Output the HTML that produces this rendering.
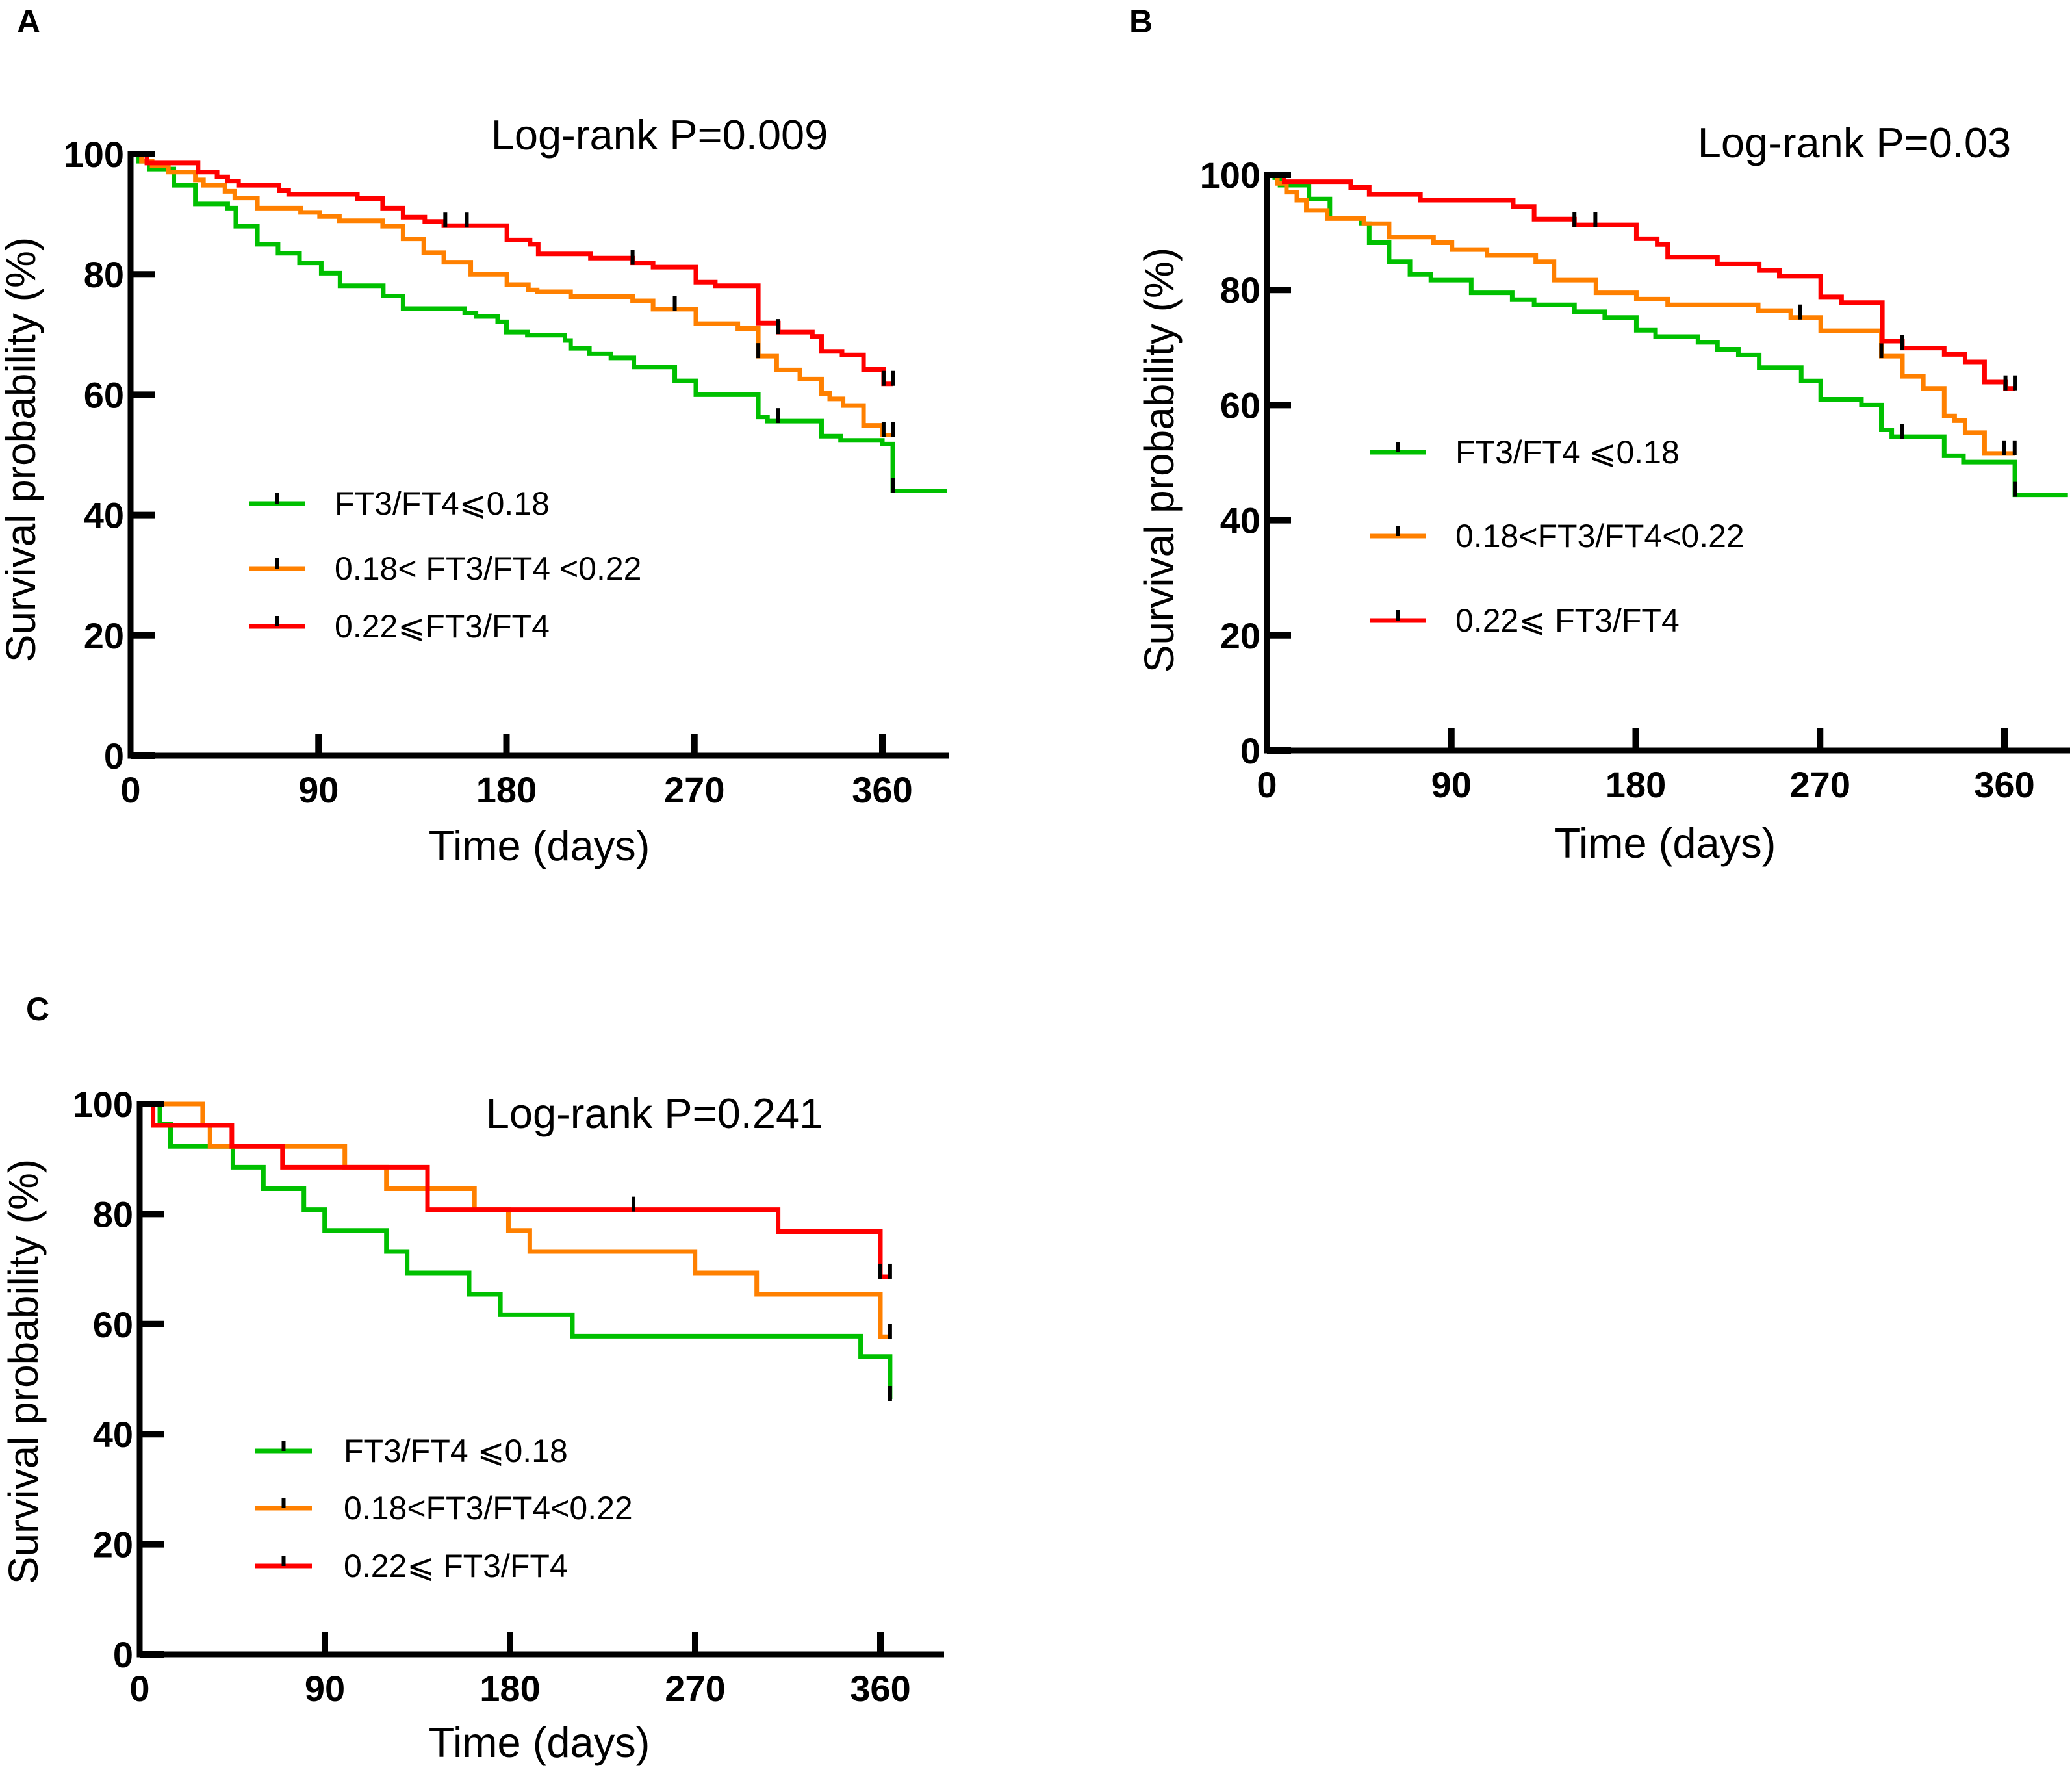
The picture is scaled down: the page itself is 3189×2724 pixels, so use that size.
<!DOCTYPE html>
<html><head><meta charset="utf-8"><style>
html,body{margin:0;padding:0;background:#fff}
svg{display:block}
text{font-family:"Liberation Sans","Noto Sans CJK SC",sans-serif}
</style></head><body>
<svg id="fig" width="3189" height="2724" viewBox="0 0 3189 2724" xmlns="http://www.w3.org/2000/svg"></svg>
<script>
// ---- Panel A data ----
const A_green_t=[0,3.9,9,20.7,31,46.5,50.4,60.7,70.6,80.9,91.3,100.3,121,130.5,160,165.4,175.8,180,190,208,210.7,219.7,230,241,260.6,270.7,300.6,305,330.9,340,360,365];
const A_green_s=[100,98.8,97.5,94.8,91.7,91,88,85,83.5,81.9,80.2,78.1,76.4,74.3,73.6,73,72.1,70.4,69.9,69,67.7,66.8,66.1,64.6,62.3,60,56.3,55.6,53.1,52.4,51.8,44];
const A_green_end=391;
const A_green_c=[310.2,365];
const A_orange_t=[0,5.2,10.3,18.1,31,34.9,45.2,49.9,60.7,81.4,90.5,100,120.7,130.5,140.4,150,162.9,180.2,190.5,194.7,210.7,240.4,250.2,270.7,290.8,300.6,309.4,320.5,330.9,334.8,341.2,351,360.1];
const A_orange_s=[100,98.8,98,97,95.7,94.8,93.8,92.7,91,90.3,89.6,88.9,88,85.9,83.6,82,80,78.3,77.4,77.1,76.3,75.6,74.2,71.8,71,66.4,64.1,62.6,60.2,59.3,58.2,54.9,53.3];
const A_orange_end=365;
const A_orange_c=[260.6,300.6,360.6,365];
const A_red_t=[0,7.8,32.3,41.4,46.5,51.7,71.1,75.7,108.6,120.7,130.5,140.9,150,180.2,191.3,195.2,220.2,240.4,250.2,270.7,280,300.6,310.2,326.5,330.9,340.7,351,360.6];
const A_red_s=[100,98.5,97,96.2,95.5,94.8,93.9,93.3,92.6,91,89.5,88.8,88.1,85.7,85,83.4,82.7,81.9,81.2,78.7,78.1,71.9,70.4,69.7,67.2,66.6,64.2,61.8];
const A_red_end=365;
const A_red_c=[150.7,161,240.4,310.2,360.6,365];
// ---- Panel B data ----
const B_green_t=[0,3.8,6.4,20.5,30.7,46,49.9,59.6,69.8,80,99.7,119.7,130.4,150.1,164.9,180.3,189.7,210.4,219.9,230.1,240.3,260.8,270.3,290.2,299.9,305,330.6,340,365.1];
const B_green_s=[100,99.5,98.2,95.8,92.5,91.5,88.2,84.9,82.7,81.7,79.5,78.3,77.4,76.2,75.2,73,71.9,70.9,69.7,68.7,66.5,64.2,61,60,55.7,54.5,51.2,50.1,44.4];
const B_green_end=391;
const B_green_c=[310.2,365.1];
const B_orange_t=[0,5.1,9.5,14.6,19.2,29.4,47.3,59.6,81.3,90.3,107.4,131.2,140.1,160.6,180.3,195.6,239.8,255.7,270.3,299.9,310.2,320.4,330.6,335.7,340.8,350.3];
const B_orange_s=[100,98.5,97,95.6,93.8,92.4,91.5,89.2,88.2,87,86,84.9,81.7,79.5,78.4,77.4,76.4,75.2,72.9,68.5,65,62.9,58.1,57.3,55.2,51.6];
const B_orange_end=365.1;
const B_orange_c=[260.3,299.9,360,365];
const B_red_t=[0,8.4,40.9,49.9,74.9,120.2,130.4,150.1,180.3,190.5,195.6,219.9,240.3,250.1,270.3,280.5,300.4,310.2,330.6,340.8,350.3,360.5];
const B_red_s=[100,98.8,97.8,96.6,95.6,94.5,92.3,91.3,88.9,87.9,85.7,84.5,83.4,82.4,78.8,77.8,71.1,69.9,68.8,67.5,64,62.9];
const B_red_end=365.1;
const B_red_c=[150.1,160.3,310.2,360.5,365.1];
// ---- Panel C data ----
const C_green_t=[0,9.8,15,45.3,60.1,79.8,89.9,119.9,130,160.1,175.3,210.3,350.4,364.7];
const C_green_s=[100,96.3,92.3,88.5,84.6,80.8,77,73.2,69.3,65.4,61.7,57.8,54.1,46.4];
const C_green_end=364.7;
const C_green_c=[364.7];
const C_orange_t=[0,30.6,34.2,99.7,119.9,162.7,179.2,189.6,269.9,299.9,360];
const C_orange_s=[100,96.1,92.3,88.5,84.6,80.8,77,73.2,69.3,65.4,57.7];
const C_orange_end=364.7;
const C_orange_c=[364.7];
const C_red_t=[0,6.5,44.8,69.4,139.9,310.3,360];
const C_red_s=[100,96.1,92.3,88.5,80.8,76.8,68.6];
const C_red_end=364.7;
const C_red_c=[240,360,364.7];
const yTicks=[0,20,40,60,80,100];
const xTicks=[0,90,180,270,360];

const NS='http://www.w3.org/2000/svg';
const svg=document.getElementById('fig');
function mk(tag,attrs,parent){const e=document.createElementNS(NS,tag);for(const k in attrs)e.setAttribute(k,attrs[k]);(parent||svg).appendChild(e);return e;}
function txt(s,attrs,parent){const e=mk('text',attrs,parent);e.textContent=s;return e;}
const GREEN='#00c000',ORANGE='#ff8000',RED='#ff0000';

function panel(p){
  const g=mk('g',{});
  
  
  const X=t=>p.x0+(t/360)*(p.x360-p.x0);
  const Y=v=>p.y0-(v/100)*(p.y0-p.y100);
  function sv(t,s,tt){let v=s[0];for(let i=0;i<t.length;i++){if(t[i]<=tt+0.01)v=s[i];}return v;}
  const series=[[p.g_t,p.g_s,p.g_end,p.g_c,GREEN,'green'],[p.o_t,p.o_s,p.o_end,p.o_c,ORANGE,'orange'],[p.r_t,p.r_s,p.r_end,p.r_c,RED,'red']];
  series.forEach(([t,s,end,c,col,nm])=>{
    let d='M'+X(t[0])+' '+Y(s[0]);
    for(let i=1;i<t.length;i++){d+=' H'+X(t[i])+' V'+Y(s[i]);}
    d+=' H'+X(end);
    const path=mk('path',{d:d,fill:'none',stroke:col,'stroke-width':7,'stroke-linejoin':'miter'},g);
    
    
    c.forEach(ct=>{
      const yy=Y(sv(t,s,ct));
      const m=mk('line',{x1:X(ct),x2:X(ct),y1:yy-20,y2:yy+3,stroke:'#000','stroke-width':6},g);
      
      
    });
  });
  const ax=mk('path',{d:`M${p.x0} ${p.y100-4} V${p.y0} H${p.axEnd}`,fill:'none',stroke:'#000','stroke-width':9},g);
  
  
  yTicks.forEach(v=>{
    const l=mk('line',{x1:p.x0,x2:p.x0+37,y1:Y(v),y2:Y(v),stroke:'#000','stroke-width':10},g);
    
    
    const tl=txt(String(v),{x:p.x0-10,y:Y(v)+20,'text-anchor':'end','font-size':56,'font-weight':'bold'},g);
    
    
  });
  xTicks.forEach(v=>{
    if(v>0){const l=mk('line',{x1:X(v),x2:X(v),y1:p.y0,y2:p.y0-34,stroke:'#000','stroke-width':10},g);
    
    }
    const tl=txt(String(v),{x:X(v),y:p.y0+72,'text-anchor':'middle','font-size':56,'font-weight':'bold'},g);
    
    
  });
  const xt=txt('Time (days)',{x:p.xtX,y:p.xtY,'text-anchor':'middle','font-size':65},g);
  
  
  const yt=txt('Survival probability (%)',{x:0,y:0,'text-anchor':'middle','font-size':64,transform:`translate(${p.ytX},${p.ytY}) rotate(-90)`},g);
  
  
  const lr=txt(p.logrank,{x:p.lrX,y:p.lrY,'text-anchor':'middle','font-size':65},g);
  
  
  const lb=txt(p.id,{x:p.lbX,y:p.lbY,'font-size':50,'font-weight':'bold'},g);
  
  
  [GREEN,ORANGE,RED].forEach((col,i)=>{
    const ly=p.legY[i];
    const ll=mk('line',{x1:p.legX1,x2:p.legX2,y1:ly,y2:ly,stroke:col,'stroke-width':7},g);
    
    
    mk('line',{x1:(p.legX1+p.legX2)/2,x2:(p.legX1+p.legX2)/2,y1:ly-16,y2:ly,stroke:'#000','stroke-width':6},g);
    const lt=txt(p.legT[i],{x:p.legTX,y:ly+17,'font-size':50},g);
    
    
  });
}

panel({id:'A',x0:201,x360:1358,y0:1163,y100:237,axEnd:1461,
  g_t:A_green_t,g_s:A_green_s,g_end:A_green_end,g_c:A_green_c,
  o_t:A_orange_t,o_s:A_orange_s,o_end:A_orange_end,o_c:A_orange_c,
  r_t:A_red_t,r_s:A_red_s,r_end:A_red_end,r_c:A_red_c,
  xtX:830,xtY:1324,ytX:54,ytY:692,logrank:'Log-rank P=0.009',lrX:1015,lrY:230,lbX:26,lbY:50,
  legX1:384,legX2:470,legTX:515,legY:[775,875,964],
  legT:['FT3/FT4\u2a7d0.18','0.18< FT3/FT4 <0.22','0.22\u2a7dFT3/FT4']});
panel({id:'B',x0:1950,x360:3085,y0:1155,y100:269,axEnd:3186,
  g_t:B_green_t,g_s:B_green_s,g_end:B_green_end,g_c:B_green_c,
  o_t:B_orange_t,o_s:B_orange_s,o_end:B_orange_end,o_c:B_orange_c,
  r_t:B_red_t,r_s:B_red_s,r_end:B_red_end,r_c:B_red_c,
  xtX:2563,xtY:1320,ytX:1806,ytY:708,logrank:'Log-rank P=0.03',lrX:2854,lrY:242,lbX:1738,lbY:50,
  legX1:2109,legX2:2195,legTX:2240,legY:[696,825,955],
  legT:['FT3/FT4 \u2a7d0.18','0.18<FT3/FT4<0.22','0.22\u2a7d FT3/FT4']});
panel({id:'C',x0:215,x360:1355,y0:2546,y100:1699,axEnd:1453,
  g_t:C_green_t,g_s:C_green_s,g_end:C_green_end,g_c:C_green_c,
  o_t:C_orange_t,o_s:C_orange_s,o_end:C_orange_end,o_c:C_orange_c,
  r_t:C_red_t,r_s:C_red_s,r_end:C_red_end,r_c:C_red_c,
  xtX:830,xtY:2704,ytX:58,ytY:2111,logrank:'Log-rank P=0.241',lrX:1007,lrY:1736,lbX:40,lbY:1570,
  legX1:393,legX2:480,legTX:529,legY:[2233,2321,2410],
  legT:['FT3/FT4 \u2a7d0.18','0.18<FT3/FT4<0.22','0.22\u2a7d FT3/FT4']});
</script>
</body></html>
